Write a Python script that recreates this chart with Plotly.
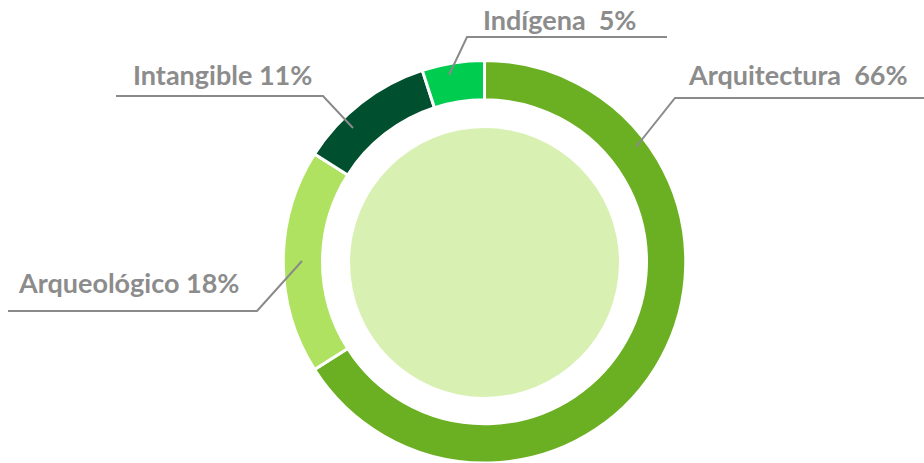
import plotly.graph_objects as go

W, H = 924, 463

categories = ["Arquitectura", "Arqueológico", "Intangible", "Indígena"]
values = [66, 18, 11, 5]
label_texts = ["Arquitectura  66%", "Arqueológico 18%", "Intangible 11%", "Indígena  5%"]
colors = ["#6BAF22", "#B0E262", "#00502F", "#00CC50"]

def px(x):
    return x / W

def py(y):
    return 1 - y / H

cx, cy, R = 484.5, 262.5, 202.0

fig = go.Figure()
fig.add_trace(go.Pie(
    labels=categories, values=values, sort=False, direction="clockwise",
    rotation=0, hole=0.805, textinfo="none", hoverinfo="label+percent",
    marker=dict(colors=colors, line=dict(color="white", width=3)),
    domain=dict(x=[px(cx - R), px(cx + R)], y=[max(0, py(cy + R)), py(cy - R)]),
    showlegend=False,
))

# inner filled disc
r_in = 134.5
fig.add_shape(type="circle", xref="paper", yref="paper",
              x0=px(cx - r_in), x1=px(cx + r_in), y0=py(cy + r_in), y1=py(cy - r_in),
              fillcolor="#D8F1B2", line=dict(width=0), layer="below")

# leader lines: (start point on ring, elbow, end of horizontal)
leaders = {
    "Arquitectura": [(636, 147), (675, 98), (924, 98)],
    "Arqueológico": [(302, 261), (257, 311), (8, 311)],
    "Intangible": [(353, 128), (323, 96), (116, 96)],
    "Indígena": [(449, 75), (467, 37), (667, 37)],
}
text_pos = {
    "Arquitectura": (687, 92),
    "Arqueológico": (17, 300),
    "Intangible": (132, 92),
    "Indígena": (482, 37),
}
for cat, txt in zip(categories, label_texts):
    pts = leaders[cat]
    path = "M " + " L ".join(f"{px(x)},{py(y)}" for x, y in pts)
    fig.add_shape(type="path", xref="paper", yref="paper", path=path,
                  line=dict(color="#8A8A8A", width=2))
    tx, ty = text_pos[cat]
    fig.add_annotation(xref="paper", yref="paper", x=px(tx), y=py(ty),
                       xanchor="left", yanchor="bottom", showarrow=False,
                       text=txt, borderpad=0,
                       font=dict(family="Lato", size=27, color="#8C8C8C", weight="bold"))

fig.update_layout(width=W, height=H, margin=dict(l=0, r=0, t=0, b=0),
                  paper_bgcolor="white", plot_bgcolor="white")
fig.write_html("out.html", config={"displayModeBar": False},
               post_script="document.body.style.margin='0';")
